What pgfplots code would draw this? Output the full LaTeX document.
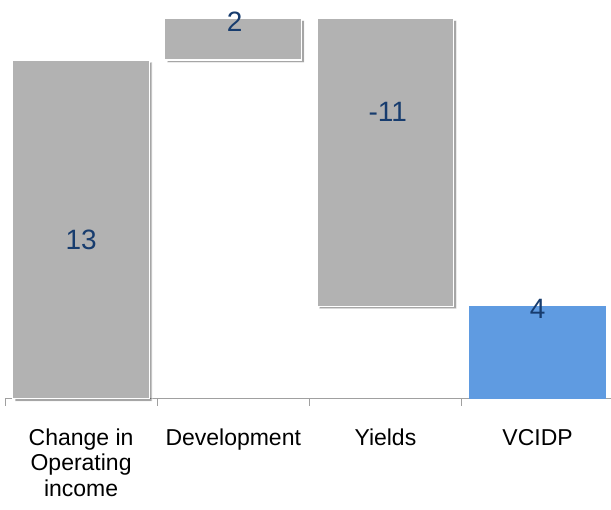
\documentclass[border=0pt]{standalone}
\usepackage{pgfplots}
\pgfplotsset{compat=1.18}
\usepackage{fontspec}
\setmainfont{Liberation Sans}
\usetikzlibrary{shadows}
\definecolor{barGray}{RGB}{178,178,178}
\definecolor{barBlue}{RGB}{95,155,225}
\definecolor{lblBlue}{RGB}{23,60,110}
\definecolor{axGray}{RGB}{160,160,160}
\begin{document}
\begin{tikzpicture}
\begin{axis}[
  scale only axis,
  width=606bp, height=399bp,
  xmin=-0.5, xmax=3.48,
  ymin=0, ymax=15.3,
  ybar stacked,
  bar width=0.9,
  hide y axis,
  axis x line*=bottom,
  x axis line style={draw=axGray, line width=0.8bp},
  xtick={0,1,2,3},
  xticklabels={{\strut Change in\\Operating\\income},{\strut Development},{\strut Yields},{\strut VCIDP}},
  major tick length=0pt,
  xticklabel style={font=\fontsize{23bp}{25.5bp}\selectfont, align=center, text=black, anchor=north, yshift=-25bp},
  extra x ticks={-0.5,0.5,1.5,2.5},
  extra x tick labels={},
  extra x tick style={major tick length=7bp, tick align=outside, tick style={draw=axGray, line width=0.8bp}},
  clip=false,
]
\addplot[fill=none, draw=none] coordinates {(0,0) (1,13) (2,3.55) (3,0)};
\addplot[fill=barGray, draw=white, line width=1.2bp,
  drop shadow={shadow xshift=2.5bp, shadow yshift=-2.5bp, opacity=0.35, fill=black}]
  coordinates {(0,13) (1,1.6) (2,11.05) (3,0)};
\addplot[fill=barBlue, draw=none] coordinates {(0,0) (1,0) (2,0) (3,3.55)};
\coordinate (l1) at (axis cs:0,6.1);
\coordinate (l2) at (axis cs:1.01,14.46);
\coordinate (l3) at (axis cs:2.015,11.0);
\coordinate (l4) at (axis cs:3,3.45);
\end{axis}
\foreach \p/\t in {l1/13,l2/2,l3/-11,l4/4}
  \node[font=\fontsize{28bp}{30bp}\selectfont, text=lblBlue] at (\p) {\t};
\path (current axis.south west) ++(-5bp,-111bp);
\path (current axis.north east);
\end{tikzpicture}
\end{document}
